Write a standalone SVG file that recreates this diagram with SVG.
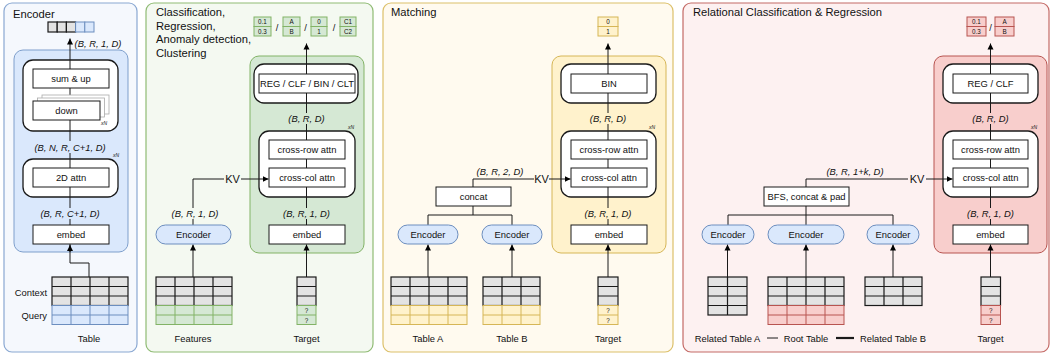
<svg xmlns="http://www.w3.org/2000/svg" width="1053" height="356" viewBox="0 0 1053 356">
<defs>
<marker id="ah" markerWidth="7" markerHeight="7" refX="6" refY="3.5" orient="auto" markerUnits="userSpaceOnUse">
<path d="M0,0.5 L6,3.5 L0,6.5 Z" fill="#000"/>
</marker>
<style>
text{font-family:"Liberation Sans",Arial,sans-serif;fill:#111}
.title{font-size:11.2px}
.t{font-size:9.4px;text-anchor:middle;dominant-baseline:central}
.dim{font-size:9.4px;font-style:italic;text-anchor:middle;dominant-baseline:central}
.xn{font-size:5px;font-style:italic;text-anchor:middle}
.kv{font-size:11px;text-anchor:middle;dominant-baseline:central}
.sm{font-size:6.3px;text-anchor:middle;dominant-baseline:central}
.box{fill:#fff;stroke:#1a1a1a;stroke-width:1}
.cont{fill:#fff;stroke:#1a1a1a;stroke-width:1.3}
.enc{fill:#dae8fc;stroke:#6c8ebf;stroke-width:1}
.gray{fill:#e3e3e3;stroke:#1a1a1a;stroke-width:1.2}
.gl{fill:none;stroke:#1a1a1a;stroke-width:1.2}
.ln{fill:none;stroke:#1a1a1a;stroke-width:1}
.ar{fill:none;stroke:#1a1a1a;stroke-width:1;marker-end:url(#ah)}
.blue{fill:#dae8fc;stroke:#6c8ebf;stroke-width:1}
.green{fill:#d5e8d4;stroke:#82b366;stroke-width:1}
.yellow{fill:#fff2cc;stroke:#d6b656;stroke-width:1}
.red{fill:#f8cecc;stroke:#b85450;stroke-width:1}
.bl{fill:none;stroke:#6c8ebf;stroke-width:1}
.gnl{fill:none;stroke:#82b366;stroke-width:1}
.yl{fill:none;stroke:#d6b656;stroke-width:1}
.rl{fill:none;stroke:#b85450;stroke-width:1}
.ghost{fill:#fff;stroke:#aaa;stroke-width:0.8}
</style>
</defs>

<!-- Panels -->
<g id="panel-encoder">
<rect x="4" y="3" width="133" height="349" rx="8" fill="#f5f8fd" stroke="#8aa8d2" stroke-width="1.2"/>
<text class="title" x="13" y="18">Encoder</text>
<rect x="14" y="50" width="114" height="202" rx="9" fill="#dae8fc" stroke="#7e9fcc" stroke-width="1"/>
</g>
<g id="panel-cls">
<rect x="146" y="3" width="227" height="349" rx="8" fill="#f4f9f1" stroke="#8fbb74" stroke-width="1.2"/>
<text class="title" x="156" y="16">Classification,</text>
<text class="title" x="156" y="29.5">Regression,</text>
<text class="title" x="156" y="43">Anomaly detection,</text>
<text class="title" x="156" y="56.5">Clustering</text>
<rect x="250" y="56" width="114" height="197" rx="9" fill="#d5e8d4" stroke="#82b366" stroke-width="1"/>
</g>
<g id="panel-match">
<rect x="383" y="3" width="290" height="349" rx="8" fill="#fffaef" stroke="#dcc06a" stroke-width="1.2"/>
<text class="title" x="391" y="16">Matching</text>
<rect x="552" y="56" width="114" height="197" rx="9" fill="#fff2cc" stroke="#d6b656" stroke-width="1"/>
</g>
<g id="panel-rel">
<rect x="683" y="3" width="366" height="349" rx="8" fill="#fdf1f1" stroke="#c46a66" stroke-width="1.2"/>
<text class="title" x="693" y="16">Relational Classification &amp; Regression</text>
<rect x="934" y="56" width="113" height="197" rx="9" fill="#f8cecc" stroke="#b85450" stroke-width="1"/>
</g>

<!-- Containers -->
<g id="containers">
<rect class="cont" x="23" y="60" width="95" height="71" rx="10"/>
<rect class="cont" x="23" y="159" width="95" height="38" rx="10"/>
<rect class="cont" x="254" y="64" width="104" height="39" rx="10"/>
<rect class="cont" x="259" y="131" width="96" height="66" rx="10"/>
<rect class="cont" x="561" y="64" width="95" height="39" rx="10"/>
<rect class="cont" x="561" y="131" width="95" height="66" rx="10"/>
<rect class="cont" x="943" y="64" width="95" height="39" rx="10"/>
<rect class="cont" x="943" y="131" width="95" height="66" rx="10"/>
<text class="xn" x="116" y="157">xN</text>
<text class="xn" x="351" y="129">xN</text>
<text class="xn" x="652" y="129">xN</text>
<text class="xn" x="1034" y="129">xN</text>
</g>

<!-- Connectors -->
<g id="connectors">
<!-- panel 1 -->
<path class="ln" d="M89,277 V263 H70 V244"/>
<path class="ar" d="M70,252 V245"/>
<path class="ln" d="M70,225 V219 M70,208 V187 M70,168 V153 M70,141 V120 M70,101 V88"/>
<path class="ar" d="M70,69 V38.5"/>
<!-- panel 2 -->
<path class="ar" d="M193,277 V244.5"/>
<path class="ln" d="M193,225 V219 M193,208 V179 H224"/>
<path class="ar" d="M241,179 H268.5"/>
<path class="ar" d="M306.5,277 V244.5"/>
<path class="ln" d="M306.5,225 V219 M306.5,208 V187 M306.5,168 V159 M306.5,140 V124 M306.5,113 V93"/>
<path class="ar" d="M306.5,74 V43.5"/>
<!-- panel 3 -->
<path class="ar" d="M428,277 V244.5"/>
<path class="ar" d="M512,277 V244.5"/>
<path class="ln" d="M428,225 V215 H512 V225 M473,215 V206 M473,187 V179 H534"/>
<path class="ar" d="M549,179 H570.5"/>
<path class="ar" d="M608,277 V244.5"/>
<path class="ln" d="M608,225 V219 M608,208 V187 M608,168 V159 M608,140 V124 M608,113 V93"/>
<path class="ar" d="M608,74 V43.5"/>
<!-- panel 4 -->
<path class="ar" d="M727.5,277 V244.5"/>
<path class="ar" d="M806,277 V244.5"/>
<path class="ar" d="M893,277 V244.5"/>
<path class="ln" d="M728,225 V215 H893 V225 M806,225 V206 M806,187 V179 H908"/>
<path class="ar" d="M926,179 H952.5"/>
<path class="ar" d="M990.5,277 V244.5"/>
<path class="ln" d="M990.5,225 V219 M990.5,208 V187 M990.5,168 V159 M990.5,140 V124 M990.5,113 V93"/>
<path class="ar" d="M990.5,74 V43.5"/>
<!-- legend lines -->
<path d="M767,338 H778" stroke="#1a1a1a" stroke-width="1"/>
<path d="M836,338 H854" stroke="#1a1a1a" stroke-width="2.2"/>
</g>

<!-- Labels -->
<g id="labels">
<text class="dim" x="98" y="43">(B, R, 1, D)</text>
<text class="dim" x="70" y="147">(B, N, R, C+1, D)</text>
<text class="dim" x="70" y="213">(B, R, C+1, D)</text>
<text class="dim" x="195" y="213">(B, R, 1, D)</text>
<text class="kv" x="232.5" y="179">KV</text>
<text class="dim" x="306.5" y="118">(B, R, D)</text>
<text class="dim" x="306.5" y="213">(B, R, 1, D)</text>
<text class="dim" x="500" y="171">(B, R, 2, D)</text>
<text class="kv" x="541.5" y="179">KV</text>
<text class="dim" x="608" y="118">(B, R, D)</text>
<text class="dim" x="608" y="213">(B, R, 1, D)</text>
<text class="dim" x="855" y="171">(B, R, 1+k, D)</text>
<text class="kv" x="917" y="179">KV</text>
<text class="dim" x="990.5" y="118">(B, R, D)</text>
<text class="dim" x="990.5" y="213">(B, R, 1, D)</text>
</g>

<!-- Panel 1 nodes -->
<g id="enc-output">
<rect class="gray" x="48" y="22" width="9.2" height="10" stroke-width="1"/>
<rect class="gray" x="57.2" y="22" width="9.2" height="10" stroke-width="1"/>
<rect class="gray" x="66.4" y="22" width="9.2" height="10" stroke-width="1"/>
<rect class="blue" x="75.6" y="22" width="9.2" height="10"/>
<rect class="blue" x="84.8" y="22" width="9.2" height="10"/>
</g>
<g id="enc-sumup"><rect class="box" x="33" y="69" width="76" height="19"/><text class="t" x="71" y="78.5">sum &amp; up</text></g>
<g id="enc-down">
<rect class="ghost" x="42" y="95" width="67" height="19"/>
<rect class="ghost" x="37.5" y="98" width="67" height="19"/>
<rect class="box" x="33" y="101" width="67" height="19"/><text class="t" x="66.5" y="110.5">down</text>
<text class="xn" x="104" y="125">xN</text>
</g>
<g id="enc-2dattn"><rect class="box" x="33" y="168" width="76" height="19"/><text class="t" x="71" y="177.5">2D attn</text></g>
<g id="enc-embed"><rect class="box" x="33" y="225" width="76" height="19"/><text class="t" x="71" y="234.5">embed</text></g>
<g id="enc-table">
<rect class="gray" x="52" y="277" width="76" height="28.5"/>
<path class="gl" d="M52,286.5 H128 M52,296 H128 M71,277 V305.5 M90,277 V305.5 M109,277 V305.5"/>
<rect class="blue" x="52" y="305.5" width="76" height="19"/>
<path class="bl" d="M52,315 H128 M71,305.5 V324.5 M90,305.5 V324.5 M109,305.5 V324.5"/>
<text class="t" x="47" y="292" text-anchor="end" style="text-anchor:end">Context</text>
<text class="t" x="47" y="315" style="text-anchor:end">Query</text>
<text class="t" x="89" y="338">Table</text>
</g>

<!-- Panel 2 nodes -->
<g id="cls-output">
<rect class="green" x="254" y="17" width="17" height="9.5"/><rect class="green" x="254" y="26.5" width="17" height="9.5"/>
<text class="sm" x="262.5" y="21.8">0.1</text><text class="sm" x="262.5" y="31.3">0.3</text>
<text class="t" x="277" y="27">/</text>
<rect class="green" x="283" y="17" width="17" height="9.5"/><rect class="green" x="283" y="26.5" width="17" height="9.5"/>
<text class="sm" x="291.5" y="21.8">A</text><text class="sm" x="291.5" y="31.3">B</text>
<text class="t" x="305.5" y="27">/</text>
<rect class="green" x="311" y="17" width="16" height="9.5"/><rect class="green" x="311" y="26.5" width="16" height="9.5"/>
<text class="sm" x="319" y="21.8">0</text><text class="sm" x="319" y="31.3">1</text>
<text class="t" x="334" y="27">/</text>
<rect class="green" x="340" y="17" width="16" height="9.5"/><rect class="green" x="340" y="26.5" width="16" height="9.5"/>
<text class="sm" x="348" y="21.8">C1</text><text class="sm" x="348" y="31.3">C2</text>
</g>
<g id="cls-head"><rect class="box" x="259" y="74" width="96" height="19"/><text class="t" x="307" y="83.5">REG / CLF / BIN / CLT</text></g>
<g id="cls-crossrow"><rect class="box" x="269" y="140" width="76" height="19"/><text class="t" x="307" y="149.5">cross-row attn</text></g>
<g id="cls-crosscol"><rect class="box" x="269" y="168" width="76" height="19"/><text class="t" x="307" y="177.5">cross-col attn</text></g>
<g id="cls-embed"><rect class="box" x="269" y="225" width="76" height="19"/><text class="t" x="307" y="234.5">embed</text></g>
<g id="cls-encoder"><rect class="enc" x="156" y="225" width="75" height="19" rx="9.5"/><text class="t" x="193.5" y="234.5">Encoder</text></g>
<g id="cls-features">
<rect class="gray" x="156" y="277" width="76" height="28.5"/>
<path class="gl" d="M156,286.5 H232 M156,296 H232 M175,277 V305.5 M194,277 V305.5 M213,277 V305.5"/>
<rect class="green" x="156" y="305.5" width="76" height="19"/>
<path class="gnl" d="M156,315 H232 M175,305.5 V324.5 M194,305.5 V324.5 M213,305.5 V324.5"/>
<text class="t" x="193" y="338">Features</text>
</g>
<g id="cls-target">
<rect class="gray" x="297" y="277" width="19" height="28.5"/>
<path class="gl" d="M297,286.5 H316 M297,296 H316"/>
<rect class="green" x="297" y="305.5" width="19" height="19"/>
<path class="gnl" d="M297,315 H316"/>
<text class="sm" x="306.5" y="310.5">?</text><text class="sm" x="306.5" y="320">?</text>
<text class="t" x="306.5" y="338">Target</text>
</g>

<!-- Panel 3 nodes -->
<g id="match-output">
<rect class="yellow" x="598" y="17" width="20" height="9.5"/><rect class="yellow" x="598" y="26.5" width="20" height="9.5"/>
<text class="sm" x="608" y="21.8">0</text><text class="sm" x="608" y="31.3">1</text>
</g>
<g id="match-head"><rect class="box" x="571" y="74" width="76" height="19"/><text class="t" x="609" y="83.5">BIN</text></g>
<g id="match-crossrow"><rect class="box" x="571" y="140" width="76" height="19"/><text class="t" x="609" y="149.5">cross-row attn</text></g>
<g id="match-crosscol"><rect class="box" x="571" y="168" width="76" height="19"/><text class="t" x="609" y="177.5">cross-col attn</text></g>
<g id="match-embed"><rect class="box" x="571" y="225" width="76" height="19"/><text class="t" x="609" y="234.5">embed</text></g>
<g id="match-concat"><rect class="box" x="436" y="187" width="75" height="19"/><text class="t" x="473.5" y="196.5">concat</text></g>
<g id="match-encA"><rect class="enc" x="398" y="225" width="60" height="19" rx="9.5"/><text class="t" x="428" y="234.5">Encoder</text></g>
<g id="match-encB"><rect class="enc" x="482" y="225" width="60" height="19" rx="9.5"/><text class="t" x="512" y="234.5">Encoder</text></g>
<g id="match-tableA">
<rect class="gray" x="391" y="277" width="76" height="28.5"/>
<path class="gl" d="M391,286.5 H467 M391,296 H467 M410,277 V305.5 M429,277 V305.5 M448,277 V305.5"/>
<rect class="yellow" x="391" y="305.5" width="76" height="19"/>
<path class="yl" d="M391,315 H467 M410,305.5 V324.5 M429,305.5 V324.5 M448,305.5 V324.5"/>
<text class="t" x="428" y="338">Table A</text>
</g>
<g id="match-tableB">
<rect class="gray" x="483" y="277" width="57" height="28.5"/>
<path class="gl" d="M483,286.5 H540 M483,296 H540 M502,277 V305.5 M521,277 V305.5"/>
<rect class="yellow" x="483" y="305.5" width="57" height="19"/>
<path class="yl" d="M483,315 H540 M502,305.5 V324.5 M521,305.5 V324.5"/>
<text class="t" x="512" y="338">Table B</text>
</g>
<g id="match-target">
<rect class="gray" x="598" y="277" width="20" height="28.5"/>
<path class="gl" d="M598,286.5 H618 M598,296 H618"/>
<rect class="yellow" x="598" y="305.5" width="20" height="19"/>
<path class="yl" d="M598,315 H618"/>
<text class="sm" x="608" y="310.5">?</text><text class="sm" x="608" y="320">?</text>
<text class="t" x="608" y="338">Target</text>
</g>

<!-- Panel 4 nodes -->
<g id="rel-output">
<rect class="red" x="967" y="17" width="19" height="9.5"/><rect class="red" x="967" y="26.5" width="19" height="9.5"/>
<text class="sm" x="976.5" y="21.8">0.1</text><text class="sm" x="976.5" y="31.3">0.3</text>
<text class="t" x="990.5" y="27">/</text>
<rect class="red" x="995" y="17" width="19" height="9.5"/><rect class="red" x="995" y="26.5" width="19" height="9.5"/>
<text class="sm" x="1004.5" y="21.8">A</text><text class="sm" x="1004.5" y="31.3">B</text>
</g>
<g id="rel-head"><rect class="box" x="953" y="74" width="75" height="19"/><text class="t" x="990.5" y="83.5">REG / CLF</text></g>
<g id="rel-crossrow"><rect class="box" x="953" y="140" width="75" height="19"/><text class="t" x="990.5" y="149.5">cross-row attn</text></g>
<g id="rel-crosscol"><rect class="box" x="953" y="168" width="75" height="19"/><text class="t" x="990.5" y="177.5">cross-col attn</text></g>
<g id="rel-embed"><rect class="box" x="953" y="225" width="75" height="19"/><text class="t" x="990.5" y="234.5">embed</text></g>
<g id="rel-bfs"><rect class="box" x="764" y="187" width="85" height="19"/><text class="t" x="806.5" y="196.5">BFS, concat &amp; pad</text></g>
<g id="rel-enc1"><rect class="enc" x="702" y="225" width="52" height="19" rx="9.5"/><text class="t" x="728" y="234.5">Encoder</text></g>
<g id="rel-enc2"><rect class="enc" x="768" y="225" width="76" height="19" rx="9.5"/><text class="t" x="806" y="234.5">Encoder</text></g>
<g id="rel-enc3"><rect class="enc" x="867" y="225" width="52" height="19" rx="9.5"/><text class="t" x="893" y="234.5">Encoder</text></g>
<g id="rel-tableA">
<rect class="gray" x="708" y="277" width="39" height="38"/>
<path class="gl" d="M708,286.5 H747 M708,296 H747 M708,305.5 H747 M727.5,277 V315"/>
</g>
<g id="rel-root">
<rect class="gray" x="768" y="277" width="76" height="28.5"/>
<path class="gl" d="M768,286.5 H844 M768,296 H844 M787,277 V305.5 M806,277 V305.5 M825,277 V305.5"/>
<rect class="red" x="768" y="305.5" width="76" height="19"/>
<path class="rl" d="M768,315 H844 M787,305.5 V324.5 M806,305.5 V324.5 M825,305.5 V324.5"/>
</g>
<g id="rel-tableB">
<rect class="gray" x="865" y="277" width="57" height="28.5"/>
<path class="gl" d="M865,286.5 H922 M865,296 H922 M884,277 V305.5 M903,277 V305.5"/>
</g>
<g id="rel-target">
<rect class="gray" x="981" y="277" width="19.5" height="28.5"/>
<path class="gl" d="M981,286.5 H1000.5 M981,296 H1000.5"/>
<rect class="red" x="981" y="305.5" width="19.5" height="19"/>
<path class="rl" d="M981,315 H1000.5"/>
<text class="sm" x="990.7" y="310.5">?</text><text class="sm" x="990.7" y="320">?</text>
<text class="t" x="990.5" y="338">Target</text>
</g>
<g id="rel-legend">
<text class="t" x="727.5" y="338">Related Table A</text>
<text class="t" x="806" y="338">Root Table</text>
<text class="t" x="893" y="338">Related Table B</text>
</g>
</svg>
